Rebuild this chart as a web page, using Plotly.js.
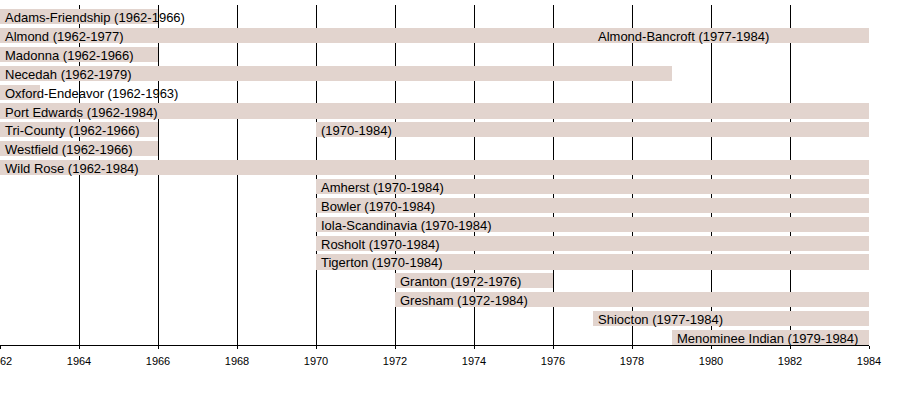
<!DOCTYPE html>
<html>
<head>
<meta charset="utf-8">
<script src="https://cdn.plot.ly/plotly-3.0.1.min.js"></script>
<style>html,body{margin:0;padding:0;background:#fff;}#chart{width:900px;height:395px;}</style>
</head>
<body>
<div id="chart"></div>
<script>
// Rows (top to bottom)
var rowNames = ["Adams-Friendship","Almond","Madonna","Necedah","Oxford-Endeavor","Port Edwards","Tri-County","Westfield","Wild Rose","Amherst","Bowler","Iola-Scandinavia","Rosholt","Tigerton","Granton","Gresham","Shiocton","Menominee Indian"];
// Bar segments
var segRow   = [0, 1, 1, 2, 3, 4, 5, 6, 6, 7, 8, 9, 10, 11, 12, 13, 14, 15, 16, 17];
var segStart = [1962,1962,1977,1962,1962,1962,1962,1962,1970,1962,1962,1970,1970,1970,1970,1970,1972,1972,1977,1979];
var segEnd   = [1966,1977,1984,1966,1979,1963,1984,1966,1984,1966,1984,1984,1984,1984,1984,1984,1976,1984,1984,1984];
var segLabel = ["Adams-Friendship (1962-1966)","Almond (1962-1977)","Almond-Bancroft (1977-1984)","Madonna (1962-1966)","Necedah (1962-1979)","Oxford-Endeavor (1962-1963)","Port Edwards (1962-1984)","Tri-County (1962-1966)","(1970-1984)","Westfield (1962-1966)","Wild Rose (1962-1984)","Amherst (1970-1984)","Bowler (1970-1984)","Iola-Scandinavia (1970-1984)","Rosholt (1970-1984)","Tigerton (1970-1984)","Granton (1972-1976)","Gresham (1972-1984)","Shiocton (1977-1984)","Menominee Indian (1979-1984)"];
var tickYears = [1962,1964,1966,1968,1970,1972,1974,1976,1978,1980,1982,1984];

var barColor = "rgb(226,212,206)";
var trace = {
  type: "bar",
  orientation: "h",
  base: segStart,
  x: segEnd.map(function(e,i){return e - segStart[i];}),
  y: segRow,
  width: 0.8,
  marker: {color: barColor, line: {width: 0}},
  hoverinfo: "skip",
  showlegend: false
};

var annotations = segLabel.map(function(t,i){
  return {x: segStart[i], y: segRow[i], xref: "x", yref: "y", text: t, showarrow: false,
    xanchor: "left", yanchor: "middle", xshift: 3, yshift: -1,
    font: {family: "Liberation Sans, Arial, sans-serif", size: 13, color: "#000"}};
});

var layout = {
  width: 900, height: 395,
  margin: {l: 0, r: 31, t: 5, b: 50, pad: 0},
  paper_bgcolor: "#fff", plot_bgcolor: "#fff",
  bargap: 0,
  xaxis: {
    range: [1962, 1984], tickvals: tickYears, ticktext: tickYears.map(String),
    showgrid: true, gridcolor: "#000", gridwidth: 1, zeroline: false,
    showline: true, linecolor: "#000", linewidth: 1,
    ticks: "outside", ticklen: 3, tickcolor: "#000", ticklabelstandoff: 3,
    ticklabeloverflow: "allow",
    tickfont: {family: "Liberation Sans, Arial, sans-serif", size: 11, color: "#000"},
    fixedrange: true
  },
  yaxis: {
    range: [17.4, -0.62], showgrid: false, zeroline: false,
    showline: true, linecolor: "#000", linewidth: 1,
    showticklabels: false, ticks: "", fixedrange: true
  },
  annotations: annotations,
  showlegend: false
};

Plotly.newPlot("chart", [trace], layout, {staticPlot: true, displayModeBar: false});
</script>
</body>
</html>
